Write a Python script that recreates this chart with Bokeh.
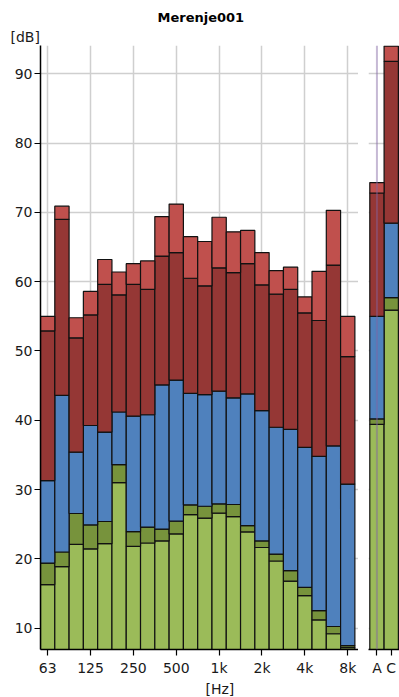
from bokeh.plotting import figure
from bokeh.models import ColumnDataSource, FixedTicker, Span, Range1d, Title
from bokeh.layouts import row
from bokeh.embed import file_html
from bokeh.resources import INLINE

# ---------------- data ----------------
bands = ["63", "80", "100", "125", "160", "200", "250", "315", "400", "500", "630",
         "800", "1k", "1.25k", "1.6k", "2k", "2.5k", "3.15k", "4k", "5k", "6.3k", "8k"]
tick_bands = ["63", "125", "250", "500", "1k", "2k", "4k", "8k"]

# stacked levels, bottom (light green) to top (light red), in dB
lvl_green = [16.3, 18.9, 22.1, 21.45, 22.2, 31.0, 21.8, 22.3, 22.6, 23.6, 26.4,
             25.9, 26.6, 26.1, 23.9, 21.65, 19.7, 16.8, 14.7, 11.2, 9.2, 7.2]
lvl_olive = [19.4, 21.0, 26.55, 24.9, 25.4, 33.6, 23.95, 24.6, 24.3, 25.45, 27.8,
             27.6, 27.95, 27.85, 24.8, 22.6, 20.7, 18.3, 15.9, 12.55, 10.25, 7.5]
lvl_blue = [31.3, 43.6, 35.4, 39.25, 38.3, 41.2, 40.6, 40.8, 45.1, 45.8, 43.9,
            43.7, 44.2, 43.25, 43.8, 41.4, 39.0, 38.7, 36.1, 34.8, 36.3, 30.8]
lvl_darkred = [52.9, 69.0, 51.9, 55.2, 59.6, 58.1, 59.6, 58.9, 63.7, 64.2, 60.5,
               59.4, 62.0, 61.3, 62.6, 59.55, 58.2, 58.9, 55.5, 54.4, 62.4, 49.2]
lvl_red = [55.0, 70.9, 54.8, 58.6, 63.2, 61.4, 62.6, 63.0, 69.4, 71.2, 66.5,
           65.8, 69.3, 67.2, 67.4, 64.2, 61.6, 62.1, 57.8, 61.5, 70.3, 55.0]

sum_labels = ["A", "C"]
sum_green = [39.4, 55.9]
sum_olive = [40.2, 57.7]
sum_blue = [55.0, 68.45]
sum_darkred = [72.8, 91.8]
sum_red = [74.3, 94.0]

y_ticks = [10, 20, 30, 40, 50, 60, 70, 80, 90]

# ---------------- style ----------------
colors = ["#9BBB59", "#77933C", "#4F81BD", "#953735", "#C0504D"]
FONT = "DejaVu Sans"
GRID = "#CFCFCF"
Y0, Y1 = 6.93, 94.08
H = 697
B_TOP, B_BOT = 45, 48
F1_LEFT, F1_W = 40, 318
F2_LEFT, F2_W = 10, 31
BAR_PX = 14.29
X0 = -0.5
X1 = X0 + F1_W / BAR_PX
XS0 = -0.5 - 1.3 / BAR_PX
XS1 = XS0 + F2_W / BAR_PX


def style_axes(p):
    p.outline_line_color = None
    p.background_fill_color = "white"
    p.border_fill_color = "white"
    for ax in p.axis:
        ax.axis_line_color = "black"
        ax.axis_line_width = 1.5
        ax.major_tick_line_color = "black"
        ax.major_tick_line_width = 1.2
        ax.major_tick_out = 6
        ax.major_tick_in = 0
        ax.minor_tick_line_color = None
        ax.major_label_text_font = FONT
        ax.major_label_text_font_size = "14px"
        ax.major_label_text_color = "#1a1a1a"
    p.grid.grid_line_color = GRID
    p.grid.grid_line_width = 1.5


def draw_stack(p, xs, levels):
    prev = [0.0] * len(xs)
    for lv, col in zip(levels, colors):
        src = ColumnDataSource(dict(left=[x - 0.5 for x in xs], right=[x + 0.5 for x in xs],
                                    bottom=prev, top=lv))
        p.quad(left="left", right="right", bottom="bottom", top="top", source=src,
               fill_color=col, line_color="#111111", line_width=1.2)
        prev = lv


# ---------------- main panel ----------------
p1 = figure(width=F1_LEFT + F1_W, height=H, x_range=Range1d(X0, X1), y_range=Range1d(Y0, Y1),
            output_backend="svg", toolbar_location=None,
            min_border_left=F1_LEFT, min_border_right=0, min_border_top=B_TOP,
            min_border_bottom=B_BOT)
xs = list(range(len(bands)))
draw_stack(p1, xs, [lvl_green, lvl_olive, lvl_blue, lvl_darkred, lvl_red])
style_axes(p1)
tick_pos = [bands.index(b) for b in tick_bands]
p1.xaxis.ticker = FixedTicker(ticks=tick_pos)
p1.xaxis.major_label_overrides = {bands.index(b): b for b in tick_bands}
p1.xaxis.major_label_standoff = 4
p1.xgrid.ticker = FixedTicker(ticks=tick_pos)
p1.yaxis.ticker = FixedTicker(ticks=y_ticks)
p1.ygrid.ticker = FixedTicker(ticks=y_ticks)
p1.yaxis.major_label_standoff = 2

p1.add_layout(Title(text="[dB]", align="left", offset=-30, standoff=1,
                    text_font=FONT, text_font_style="normal", text_font_size="14px",
                    text_color="#1a1a1a"), "above")
p1.add_layout(Title(text="Merenje001", align="left", offset=117, standoff=3,
                    text_font=FONT, text_font_style="bold", text_font_size="13px",
                    text_color="black"), "above")
p1.add_layout(Title(text="[Hz]", align="left", offset=165, standoff=0,
                    text_font=FONT, text_font_style="normal", text_font_size="14px",
                    text_color="#1a1a1a"), "below")

# ---------------- A / C panel ----------------
p2 = figure(width=F2_LEFT + F2_W, height=H, x_range=Range1d(XS0, XS1), y_range=p1.y_range,
            output_backend="svg", toolbar_location=None, y_axis_location=None,
            min_border_left=F2_LEFT, min_border_right=0, min_border_top=B_TOP,
            min_border_bottom=B_BOT)
sx = list(range(len(sum_labels)))
draw_stack(p2, sx, [sum_green, sum_olive, sum_blue, sum_darkred, sum_red])
style_axes(p2)
p2.xaxis.ticker = FixedTicker(ticks=sx)
p2.xaxis.major_label_overrides = {i: s for i, s in enumerate(sum_labels)}
p2.xaxis.major_label_standoff = 4
p2.xgrid.grid_line_color = None
p2.ygrid.ticker = FixedTicker(ticks=y_ticks)
p2.add_layout(Span(location=sx[0], dimension="height", line_color="#8064A2",
                   line_alpha=0.45, line_width=2, level="overlay"))

layout = row(p1, p2, spacing=0)
open("out.html", "w").write(file_html(layout, INLINE))
